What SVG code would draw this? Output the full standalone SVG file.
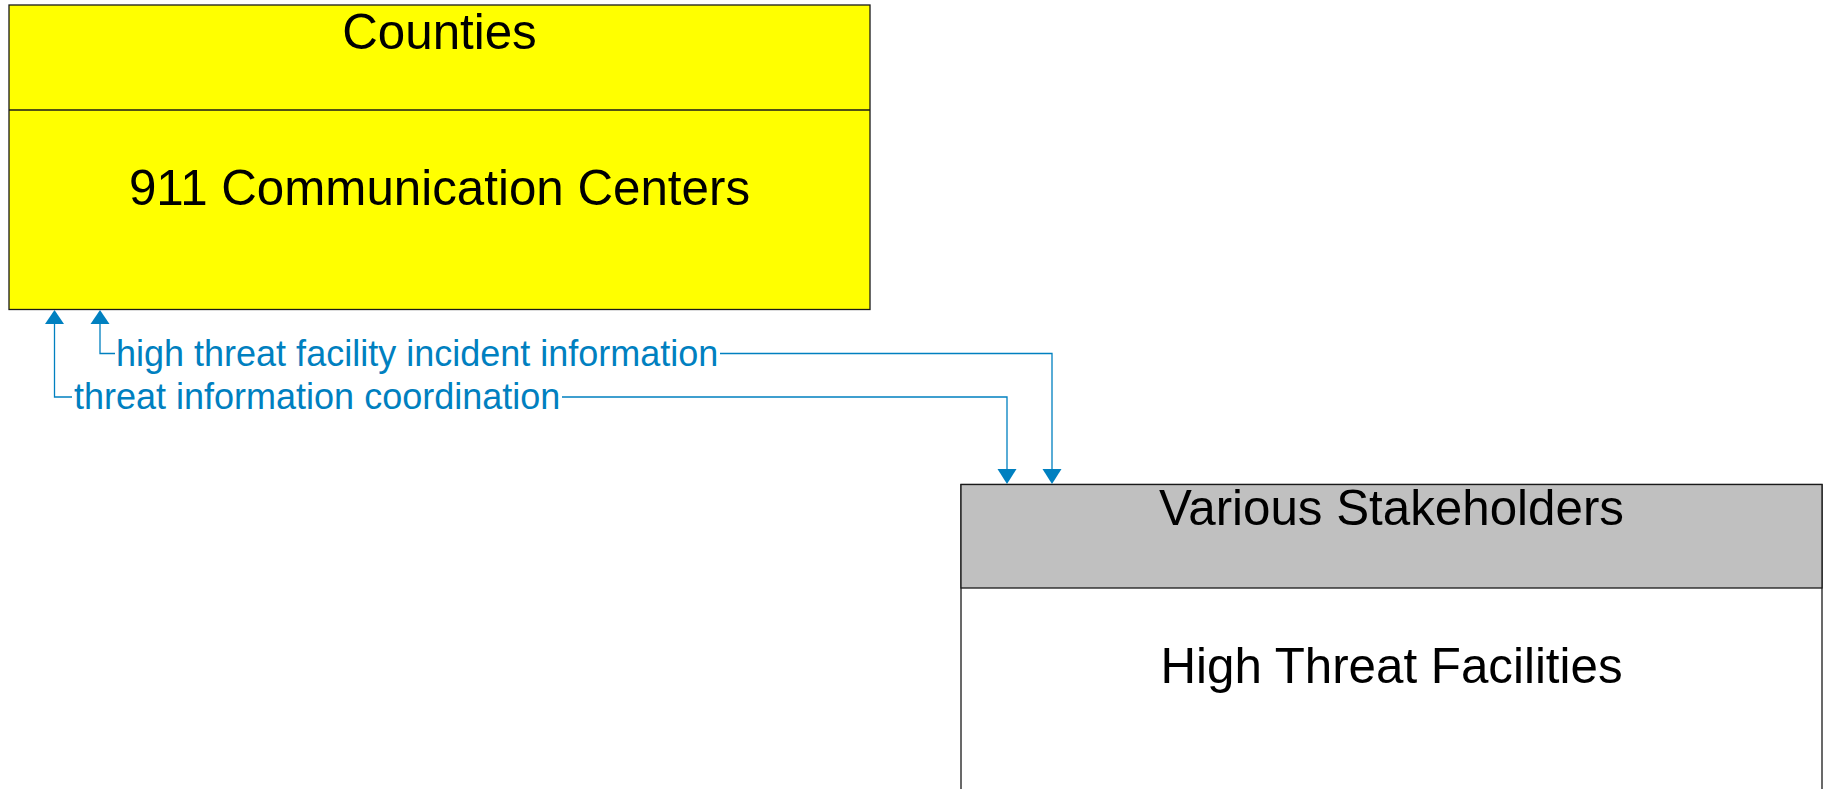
<svg xmlns="http://www.w3.org/2000/svg" width="1829" height="789" viewBox="0 0 1829 789">
<style>
.box{stroke:#1a1a1a;stroke-width:1.3}
.title{font-family:"Liberation Sans",Arial,sans-serif;font-size:49.3px;fill:#000;text-anchor:middle}
.lbl{font-family:"Liberation Sans",Arial,sans-serif;font-size:36px;fill:#0080C0}
.ln{fill:none;stroke:#0080C0;stroke-width:1.3}
.ah{fill:#0080C0}
</style>
<rect width="1829" height="789" fill="#fff"/>
<g id="counties">
<rect class="box" x="9" y="5" width="861" height="304.5" fill="#FFFF00"/>
<line class="box" x1="9" y1="110" x2="870" y2="110"/>
<text class="title" x="439.5" y="49">Counties</text>
<text class="title" x="439.5" y="205">911 Communication Centers</text>
</g>
<g id="stakeholders">
<rect class="box" x="961" y="484.5" width="861" height="310" fill="#fff"/>
<rect class="box" x="961" y="484.5" width="861" height="103.5" fill="#C0C0C0"/>
<text class="title" x="1391.5" y="525">Various Stakeholders</text>
<text class="title" x="1391.5" y="683">High Threat Facilities</text>
</g>
<g id="connectors">
<path class="ln" d="M54.5 322 V397 H72"/>
<path class="ln" d="M562 397 H1007 V471"/>
<polygon class="ah" points="54.5,310 45,324 64,324"/>
<polygon class="ah" points="1007,484 997.5,469 1016.5,469"/>
<text class="lbl" x="74" y="409">threat information coordination</text>
<path class="ln" d="M100 322 V353.5 H115"/>
<path class="ln" d="M720 353.5 H1052 V471"/>
<polygon class="ah" points="100,310 90.5,324 109.5,324"/>
<polygon class="ah" points="1052,484 1042.5,469 1061.5,469"/>
<text class="lbl" x="116" y="366">high threat facility incident information</text>
</g>
</svg>
